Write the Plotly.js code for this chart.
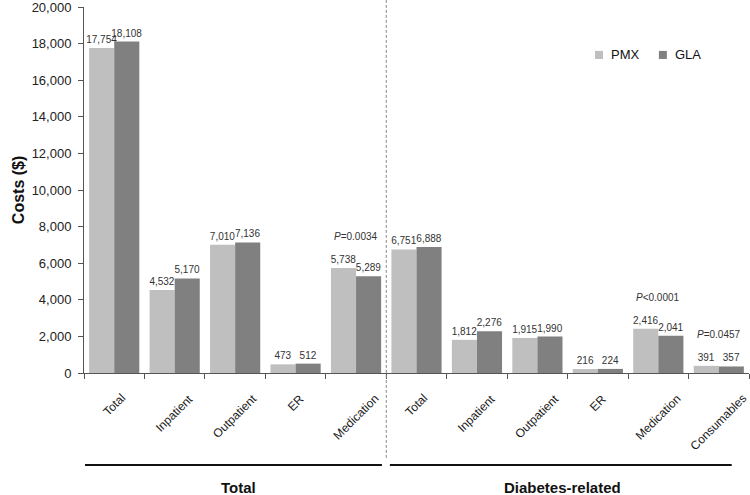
<!DOCTYPE html>
<html>
<head>
<meta charset="utf-8">
<script src="https://cdn.plot.ly/plotly-3.0.1.min.js"></script>
<style>html,body{margin:0;padding:0;background:#fff;}#chart{width:750px;height:495px;}</style>
</head>
<body>
<div id="chart"></div>
<script>
const categories = ['Total','Inpatient','Outpatient','ER','Medication','Total','Inpatient','Outpatient','ER','Medication','Consumables'];
const pmx = [17754,4532,7010,473,5738,6751,1812,1915,216,2416,391];
const gla = [18108,5170,7136,512,5289,6888,2276,1990,224,2041,357];
const seriesNames = ['PMX','GLA'];
const seriesColors = ['#bfbfbf','#808080'];
const groupLabels = ['Total','Diabetes-related'];
const groupSizes = [5,6];
const pIndex = [4,9,10];
const pText = ['=0.0034','<0.0001','=0.0457'];
const yTicks = [0,2000,4000,6000,8000,10000,12000,14000,16000,18000,20000];

const xs = categories.map((c,i)=>i);
const FONT = 'Liberation Sans, Arial, sans-serif';

const traces = [pmx, gla].map((vals,k)=>({
  type:'bar', name:seriesNames[k], x:xs, y:vals, marker:{color:seriesColors[k]},
  text:vals.map(v=>v.toLocaleString('en-US')), textposition:'outside', constraintext:'none', cliponaxis:false,
  textfont:{family:FONT,size:10,color:'#333'}, hoverinfo:'skip', showlegend:false
}));

const annotations = [];
const shapes = [];
categories.forEach((c,i)=>{
  annotations.push({xref:'x', yref:'paper', x:i, y:-0.043, xanchor:'center', yanchor:'top',
    text:c, textangle:-45, showarrow:false, font:{family:FONT,size:12,color:'#1a1a1a'}});
});
pIndex.forEach((idx,k)=>{
  annotations.push({xref:'x', yref:'y', x:idx, y:Math.max(pmx[idx],gla[idx])+1720, xanchor:'center', yanchor:'middle',
    text:'<i>P</i>'+pText[k], showarrow:false, font:{family:FONT,size:10,color:'#333'}});
});
annotations.push({xref:'paper', yref:'paper', x:-0.099, y:0.5, xanchor:'center', yanchor:'middle',
  text:'<b>Costs ($)</b>', textangle:-90, showarrow:false, font:{family:FONT,size:16,color:'#111'}});

// legend (manual, to match compact swatch spacing)
const legX = [0.7685, 0.8645];
seriesNames.forEach((n,k)=>{
  shapes.push({type:'rect', xref:'paper', yref:'paper', x0:legX[k], x1:legX[k]+0.012, y0:0.858, y1:0.880,
    fillcolor:seriesColors[k], line:{width:0}});
  annotations.push({xref:'paper', yref:'paper', x:legX[k]+0.021, y:0.869, xanchor:'left', yanchor:'middle',
    text:n, showarrow:false, font:{family:FONT,size:13,color:'#111'}});
});

const groupLinePaper = [[0.0015,0.448],[0.460,0.974]];
const groupCenters = [0.2316,0.720];
groupLabels.forEach((g,k)=>{
  annotations.push({xref:'paper', yref:'paper', x:groupCenters[k], y:-0.314, xanchor:'center', yanchor:'middle',
    text:'<b>'+g+'</b>', showarrow:false, font:{family:FONT,size:15,color:'#111'}});
});

shapes.push({type:'line', xref:'x', yref:'paper', x0:groupSizes[0]-0.5, x1:groupSizes[0]-0.5, y0:-0.232, y1:1.02,
   line:{color:'#888', width:1, dash:'3px,2px'}});
groupLinePaper.forEach(p=>{
  shapes.push({type:'line', xref:'paper', yref:'paper', x0:p[0], x1:p[1], y0:-0.2514, y1:-0.2514,
    line:{color:'#111', width:2}});
});

const tickBounds = [];
for (let i=0;i<=categories.length;i++) tickBounds.push(i-0.5);

const layout = {
  width:750, height:495,
  margin:{l:84, r:1, t:7, b:122},
  paper_bgcolor:'#fff', plot_bgcolor:'#fff',
  barmode:'group', bargap:0.17, bargroupgap:0,
  font:{family:FONT, color:'#222'},
  showlegend:false,
  xaxis:{range:[-0.5,categories.length-0.5], tickmode:'array', tickvals:tickBounds, ticktext:tickBounds.map(()=>''),
    showticklabels:false, ticks:'outside', ticklen:5, tickcolor:'#555', showline:true, linecolor:'#555', linewidth:1,
    showgrid:false, zeroline:false, fixedrange:true},
  yaxis:{range:[0,20000], tickmode:'array', tickvals:yTicks, ticktext:yTicks.map(v=>v.toLocaleString('en-US')),
    ticks:'outside', ticklen:5, tickcolor:'#555', showline:true, linecolor:'#555', linewidth:1, ticklabeloverflow:'allow',
    showgrid:false, zeroline:false, tickfont:{family:FONT,size:13,color:'#222'}, ticklabelstandoff:4, fixedrange:true},
  annotations:annotations,
  shapes:shapes
};

Plotly.newPlot('chart', traces, layout, {displayModeBar:false, staticPlot:true});
</script>
</body>
</html>
